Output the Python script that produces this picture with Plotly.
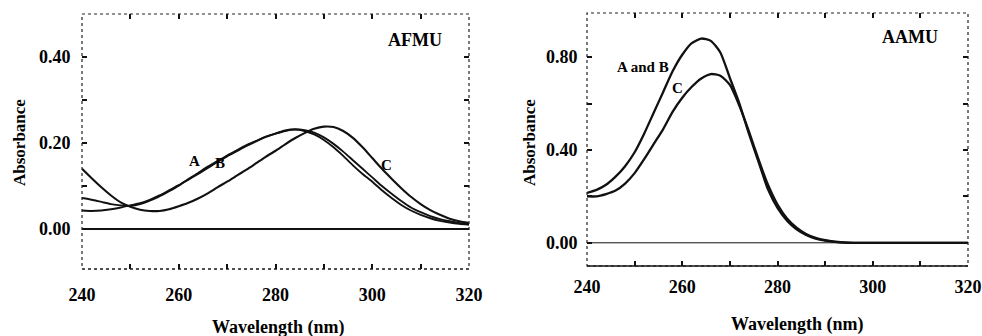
import plotly.graph_objects as go

# ---------------- data: AFMU (left panel) ----------------
wl_afmu = [240, 242, 244, 246, 248, 250, 252, 254, 256, 258, 260, 262, 264, 266, 268, 270,
           272, 274, 276, 278, 280, 282, 284, 286, 288, 290, 292, 294, 296, 298, 300, 302,
           304, 306, 308, 310, 312, 314, 316, 318, 320]
afmu_A = [0.072, 0.068, 0.063, 0.058, 0.055, 0.054, 0.058, 0.066, 0.076, 0.088, 0.101, 0.116,
          0.130, 0.145, 0.158, 0.171, 0.183, 0.195, 0.205, 0.215, 0.222, 0.228, 0.231, 0.228,
          0.220, 0.207, 0.190, 0.170, 0.148, 0.128, 0.110, 0.090, 0.072, 0.056, 0.043, 0.033,
          0.025, 0.019, 0.015, 0.012, 0.010]
afmu_B = [0.043, 0.042, 0.043, 0.046, 0.050, 0.055, 0.060, 0.068, 0.078, 0.090, 0.102, 0.115,
          0.128, 0.142, 0.156, 0.169, 0.181, 0.193, 0.204, 0.214, 0.222, 0.229, 0.232, 0.230,
          0.224, 0.213, 0.198, 0.180, 0.160, 0.140, 0.120, 0.100, 0.082, 0.065, 0.050, 0.039,
          0.030, 0.023, 0.018, 0.014, 0.012]
afmu_C = [0.140, 0.118, 0.097, 0.078, 0.062, 0.052, 0.045, 0.042, 0.042, 0.046, 0.053, 0.061,
          0.071, 0.083, 0.097, 0.110, 0.124, 0.138, 0.153, 0.168, 0.182, 0.197, 0.211, 0.223,
          0.233, 0.238, 0.237, 0.228, 0.212, 0.190, 0.165, 0.140, 0.117, 0.095, 0.075, 0.058,
          0.044, 0.033, 0.024, 0.018, 0.014]

# ---------------- data: AAMU (right panel) ----------------
wl_aamu = [240, 242, 244, 246, 248, 250, 252, 254, 256, 258, 260, 262, 264, 266, 268, 270,
           272, 274, 276, 278, 280, 282, 284, 286, 288, 290, 292, 294, 296, 300, 305, 310,
           315, 320]
aamu_AB = [0.215, 0.228, 0.250, 0.285, 0.330, 0.390, 0.470, 0.560, 0.650, 0.740, 0.810, 0.860,
           0.880, 0.870, 0.820, 0.710, 0.600, 0.470, 0.350, 0.230, 0.150, 0.095, 0.058, 0.034,
           0.018, 0.009, 0.004, 0.001, 0.0, 0.0, 0.0, 0.0, 0.0, 0.0]
aamu_C = [0.200, 0.200, 0.210, 0.225, 0.255, 0.300, 0.360, 0.425, 0.490, 0.565, 0.625, 0.672,
          0.708, 0.727, 0.720, 0.680, 0.590, 0.480, 0.360, 0.250, 0.165, 0.105, 0.065, 0.038,
          0.021, 0.011, 0.005, 0.002, 0.0, 0.0, 0.0, 0.0, 0.0, 0.0]

baseline_x = [240, 320]
baseline_y = [0.0, 0.0]

x_ticks = [240, 260, 280, 300, 320]
afmu_yticks = [0.0, 0.2, 0.4]
aamu_yticks = [0.0, 0.4, 0.8]

FONT = "Liberation Serif"
ink = "#111111"

fig = go.Figure()

def curve(x, y, xa, ya, w=2.0):
    fig.add_trace(go.Scatter(x=x, y=y, mode="lines", xaxis=xa, yaxis=ya,
                             line=dict(color=ink, width=w, shape="spline", smoothing=0.6),
                             showlegend=False, hoverinfo="skip", cliponaxis=False))

curve(baseline_x, baseline_y, "x", "y", 2.2)
curve(wl_afmu, afmu_A, "x", "y", 1.9)
curve(wl_afmu, afmu_B, "x", "y", 1.9)
curve(wl_afmu, afmu_C, "x", "y", 2.1)

curve(baseline_x, baseline_y, "x2", "y2", 1.0)
curve(wl_aamu, aamu_AB, "x2", "y2", 2.3)
curve(wl_aamu, aamu_C, "x2", "y2", 2.3)

tickfont = dict(family=FONT, size=18, color="black", weight="bold")
clear = "rgba(0,0,0,0)"

def xaxis(domain, anchor, standoff):
    return dict(domain=domain, anchor=anchor, range=[240, 320], tickvals=x_ticks,
                ticks="inside", ticklen=5, tickwidth=1.5, tickcolor=ink, mirror="allticks",
                minor=dict(dtick=10, tick0=240, ticks="inside", ticklen=5, tickwidth=1.5,
                           tickcolor=ink),
                showline=True, linecolor=clear, linewidth=1, automargin=False,
                showgrid=False, zeroline=False,
                tickfont=tickfont, ticklabelstandoff=standoff)

def yaxis(domain, anchor, rng, vals, minor, standoff):
    return dict(domain=domain, anchor=anchor, range=rng, tickvals=vals,
                tickformat=".2f", ticks="inside", ticklen=5, tickwidth=1.5, tickcolor=ink,
                mirror="allticks",
                minor=dict(dtick=minor, tick0=0, ticks="inside", ticklen=5, tickwidth=1.5,
                           tickcolor=ink),
                showline=True, linecolor=clear, linewidth=1, automargin=False,
                showgrid=False, zeroline=False,
                tickfont=tickfont, ticklabelstandoff=standoff)

W, H = 982, 336
lx = [82 / W, 469 / W]
ly = [1 - 269 / H, 1 - 14 / H]
rx = [587 / W, 968 / W]
ry = [1 - 266 / H, 1 - 13 / H]

fig.update_layout(
    width=W, height=H, margin=dict(l=0, r=0, t=0, b=0, autoexpand=False),
    template="none",
    paper_bgcolor="white", plot_bgcolor="white",
    xaxis=xaxis(lx, "y", 9),
    yaxis=yaxis(ly, "x", [-0.093, 0.5], afmu_yticks, 0.1, 7),
    xaxis2=xaxis(rx, "y2", 4),
    yaxis2=yaxis(ry, "x2", [-0.1, 0.99], aamu_yticks, 0.2, 5),
)

# frames (dotted, as in the scan)
for xr, yr, solid_bottom in (("x", "y", False), ("x2", "y2", True)):
    fig.add_shape(type="rect", xref=f"{xr} domain", yref=f"{yr} domain",
                  x0=0, x1=1, y0=0, y1=1, line=dict(color="#222222", width=1.2, dash="dot"))
    fig.add_shape(type="line", xref=f"{xr} domain", yref=f"{yr} domain",
                  x0=0, x1=1, y0=0, y1=0,
                  line=dict(color=ink, width=1.6 if solid_bottom else 1.2,
                            dash="solid" if solid_bottom else "dot"))

def label(text, x, y, size, xa="paper", ya="paper", angle=0):
    fig.add_annotation(text=text, x=x, y=y, xref=xa, yref=ya, showarrow=False,
                       textangle=angle, xanchor="center", yanchor="middle",
                       font=dict(family=FONT, size=size, color="black", weight="bold"))

# axis titles (placed in pixels)
label("Wavelength (nm)", 278 / W, 1 - 327 / H, 18)
label("Wavelength (nm)", 797 / W, 1 - 324 / H, 18)
label("Absorbance", 19 / W, 1 - 143 / H, 17, angle=-90)
label("Absorbance", 529 / W, 1 - 143 / H, 17, angle=-90)

# panel names
label("AFMU", 415 / W, 1 - 40 / H, 18)
label("AAMU", 910 / W, 1 - 37 / H, 18)

# curve labels
label("A", 263.3, 0.158, 15, "x", "y")
label("B", 268.5, 0.154, 15, "x", "y")
label("C", 303.0, 0.150, 15, "x", "y")
label("A and B", 251.8, 0.757, 15, "x2", "y2")
label("C", 259.1, 0.667, 15, "x2", "y2")

fig.write_html("out.html")
